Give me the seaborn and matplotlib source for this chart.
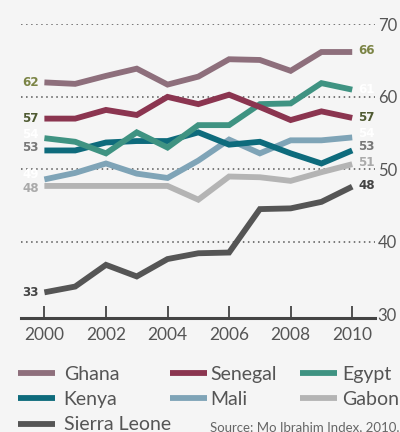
import matplotlib
matplotlib.use("Agg")
import matplotlib.pyplot as plt
from matplotlib.lines import Line2D
import numpy as np
import pandas as pd
import seaborn as sns

# Governance scores, 2000-2010
years = list(range(2000, 2011))
ghana = [62.0, 61.8, 62.9, 63.9, 61.7, 62.8, 65.2, 65.1, 63.6, 66.2, 66.2]
senegal = [57.0, 57.0, 58.2, 57.5, 60.0, 59.0, 60.3, 58.6, 56.8, 58.0, 57.1]
egypt = [54.3, 53.8, 52.2, 55.1, 53.0, 56.1, 56.1, 59.0, 59.1, 61.9, 61.0]
kenya = [52.6, 52.6, 53.7, 53.9, 53.9, 55.1, 53.4, 53.8, 52.2, 50.8, 52.6]
mali = [48.6, 49.5, 50.8, 49.4, 48.8, 51.2, 54.1, 52.2, 54.0, 54.0, 54.4]
gabon = [47.7, 47.7, 47.7, 47.7, 47.7, 45.8, 49.0, 48.9, 48.4, 49.6, 50.7]
sierra_leone = [33.0, 33.8, 36.8, 35.2, 37.6, 38.4, 38.5, 44.5, 44.6, 45.5, 47.6]

countries = ["Ghana", "Senegal", "Egypt", "Kenya", "Mali", "Gabon", "Sierra Leone"]
series = [ghana, senegal, egypt, kenya, mali, gabon, sierra_leone]
colors = ["#8e6f7c", "#8b3550", "#3f9382", "#0e6b7c", "#7fa4b7", "#b4b4b4", "#555555"]
palette = dict(zip(countries, colors))

# colours of the start / end value labels
label_colors = ["#7b8445", "#4f5a32", "#ffffff", "#777777", "#ffffff", "#aaaaaa", "#444444"]
start_label_dy = [0, 0, 2.5, 2, 3.5, -1.5, 0]
end_label_dy = [1, 0, 0, 3, 2.5, 1.5, 1]

y_ticks = [30, 40, 50, 60, 70]
x_ticks = [2000, 2002, 2004, 2006, 2008, 2010]

df = pd.DataFrame(
    [(c, y, v) for c, vals in zip(countries, series) for y, v in zip(years, vals)],
    columns=["country", "year", "score"],
)

BG = "#f5f5f5"
INK = "#444444"
TEXT = "#555555"
main_font = ["Lato", "DejaVu Sans"]
label_font = ["DejaVu Sans"]

fig = plt.figure(figsize=(4.0, 4.32), dpi=100, facecolor=BG)
ax = fig.add_axes([0.0525, 0.2646, 0.885, 0.6787])
ax.set_facecolor(BG)

draw_order = ["Sierra Leone", "Gabon", "Mali", "Kenya", "Egypt", "Senegal", "Ghana"]
sns.lineplot(
    data=df, x="year", y="score", hue="country", hue_order=draw_order,
    palette=palette, linewidth=4.2, legend=False, ax=ax,
    solid_joinstyle="miter", solid_capstyle="butt",
)

ax.set_xlim(1999.24, 2010.74)
ax.set_ylim(29.5, 70)
ax.set_xlabel("")
ax.set_ylabel("")

# dotted horizontal guides
for v in y_ticks[1:]:
    ax.axhline(v, color="#555555", lw=1.1, ls=(0, (1, 2.3)), zorder=0)

for s in ["left", "top", "right"]:
    ax.spines[s].set_visible(False)
ax.spines["bottom"].set_color(INK)
ax.spines["bottom"].set_linewidth(2.2)

ax.set_xticks(x_ticks)
ax.set_xticklabels([str(x) for x in x_ticks], fontsize=12.5, color=TEXT,
                   family=main_font)
ax.tick_params(axis="x", direction="in", length=8.5, width=1.3, color=INK, pad=7)

ax.yaxis.tick_right()
ax.set_yticks(y_ticks)
ax.set_yticklabels([str(v) for v in y_ticks], fontsize=12, color=TEXT,
                   family=main_font)
ax.tick_params(axis="y", length=0, pad=2)

# value labels at both ends of each line
for vals, col, d0, d1 in zip(series, label_colors, start_label_dy, end_label_dy):
    ax.annotate(f"{round(vals[0])}", (years[0], vals[0]), xytext=(-4, d0),
                textcoords="offset points", ha="right", va="center",
                fontsize=9.5, fontweight="bold", fontstretch="condensed",
                color=col, family=label_font)
    ax.annotate(f"{round(vals[-1])}", (years[-1], vals[-1]), xytext=(4.3, d1),
                textcoords="offset points", ha="left", va="center",
                fontsize=9.5, fontweight="bold", fontstretch="condensed",
                color=col, family=label_font)

# legend in three columns
def handle(name):
    return Line2D([], [], color=palette[name], lw=4.2, solid_capstyle="butt")

columns = [
    (["Ghana", "Kenya", "Sierra Leone"], 18 / 400, 0.45),
    (["Senegal", "Mali"], 170 / 400, 0.15),
    (["Egypt", "Gabon"], 300 / 400, 0.25),
]
for names, x0, pad in columns:
    leg = fig.legend(
        [handle(n) for n in names], names, loc="upper left",
        bbox_to_anchor=(x0, 1 - 366 / 432), borderaxespad=0, borderpad=0,
        frameon=False, handlelength=1.9, handletextpad=pad, labelspacing=0.42,
        prop={"family": main_font, "size": 14},
    )
    for t in leg.get_texts():
        t.set_color(TEXT)

fig.text(210 / 400, 1 - 427 / 432, "Source: Mo Ibrahim Index, 2010.",
         fontsize=9.5, color="#666666", family=main_font,
         va="center", ha="left")

fig.savefig("out.png", dpi=100, facecolor=BG)
